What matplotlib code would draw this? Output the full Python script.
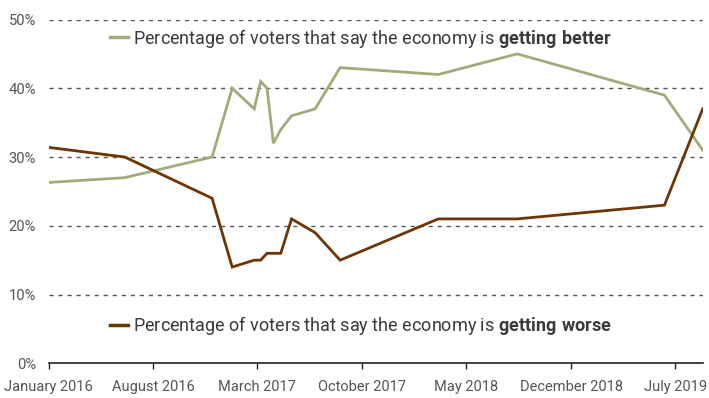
import pandas as pd
import matplotlib.pyplot as plt
import matplotlib.dates as mdates
from matplotlib.lines import Line2D

# Survey dates and shares (%)
dates = ['2016-01-01', '2016-06-04', '2016-11-29', '2017-01-09', '2017-02-23',
         '2017-03-08', '2017-03-21', '2017-04-03', '2017-04-18', '2017-05-10',
         '2017-06-27', '2017-08-17', '2018-03-05', '2018-08-13', '2019-06-09',
         '2019-08-26']
better = [26.3, 27, 30, 40, 37, 41, 40, 32, 34, 36, 37, 43, 42, 45, 39, 31]
worse = [31.4, 30, 24, 14, 15, 15, 16, 16, 16, 21, 19, 15, 21, 21, 23, 37]

tick_dates = ['2016-01-01', '2016-08-01', '2017-03-01', '2017-10-01',
              '2018-05-01', '2018-12-01', '2019-07-01']
y_ticks = [0, 10, 20, 30, 40, 50]

green = '#a2ac7a'
brown = '#6e3505'
txt = '#3a3a3a'

plt.rcParams['font.family'] = 'Roboto'
plt.rcParams['mathtext.fontset'] = 'custom'
plt.rcParams['mathtext.bf'] = 'Roboto:bold'
plt.rcParams['mathtext.rm'] = 'Roboto'

df = pd.DataFrame({'better': better, 'worse': worse}, index=pd.to_datetime(dates))

fig = plt.figure(figsize=(7.09, 3.98), dpi=100)
ax = fig.add_axes([48.7 / 709, 1 - 363.3 / 398, 654 / 709, 343.8 / 398])

ax.plot(df.index, df['better'], color=green, lw=2.0, solid_joinstyle='miter')
ax.plot(df.index, df['worse'], color=brown, lw=2.0, solid_joinstyle='miter')

ax.set_xlim(df.index[0], df.index[-1])
ax.set_ylim(0, 50)

ax.set_yticks(y_ticks)
ax.set_yticklabels([f'{v}%' for v in y_ticks])
for v in y_ticks[1:]:
    ax.axhline(v, color='#555555', lw=1.0, dashes=(3, 3.5), zorder=0)

ax.set_xticks(pd.to_datetime(tick_dates))
ax.xaxis.set_major_formatter(mdates.DateFormatter('%B %Y'))

for s in ['top', 'right', 'left']:
    ax.spines[s].set_visible(False)
ax.spines['bottom'].set_color('#222222')
ax.spines['bottom'].set_linewidth(1.2)

ax.tick_params(axis='y', length=0, pad=9, labelsize=10.6, labelcolor='#555555')
ax.tick_params(axis='x', length=4, width=1, color='#222222', pad=8,
               labelsize=10.5, labelcolor='#555555')

h1 = [Line2D([], [], color=green, lw=2.5)]
h2 = [Line2D([], [], color=brown, lw=2.5)]
leg_kw = dict(loc='center left', frameon=False, fontsize=13.0, handlelength=1.0,
              handletextpad=0.3, borderpad=0, borderaxespad=0, labelcolor=txt)
leg1 = ax.legend(h1, [r'Percentage of voters that say the economy is $\mathbf{getting\ better}$'],
                 bbox_to_anchor=(0.0937, 0.946), **leg_kw)
ax.add_artist(leg1)
ax.legend(h2, [r'Percentage of voters that say the economy is $\mathbf{getting\ worse}$'],
          bbox_to_anchor=(0.0937, 0.1085), **leg_kw)

plt.savefig('out.png', dpi=100)
plt.close(fig)
